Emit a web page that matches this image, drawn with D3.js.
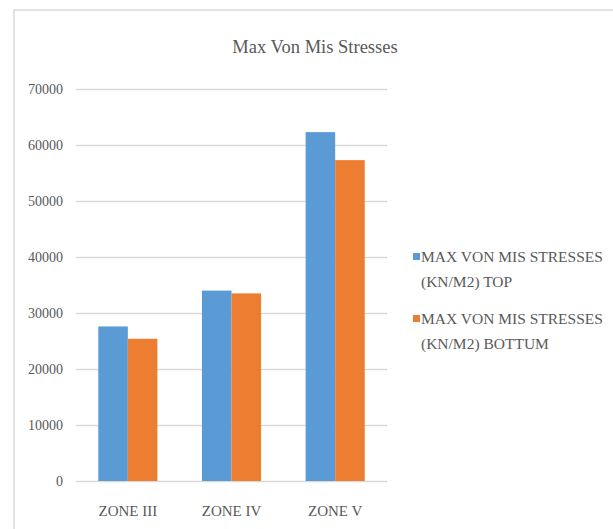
<!DOCTYPE html>
<html>
<head>
<meta charset="utf-8">
<script src="https://cdn.jsdelivr.net/npm/d3@7"></script>
<style>
  body { margin: 0; background: #fff; }
</style>
</head>
<body>
<svg id="chart" width="613" height="529" font-family="Liberation Serif"></svg>
<script>
// values (kN/m2)
var zones = ["ZONE III", "ZONE IV", "ZONE V"];
var seriesNames = ["MAX VON MIS STRESSES (KN/M2) TOP", "MAX VON MIS STRESSES (KN/M2) BOTTUM"];
var topValues = [27600, 34000, 62300];
var bottomValues = [25400, 33500, 57300];
var yTicks = [0, 10000, 20000, 30000, 40000, 50000, 60000, 70000];
var colors = ["#5b9bd5", "#ed7d31"];

var font = "Liberation Serif";
var textColor = "#595959";

var svg = d3.select("#chart");

// outer frame (only top and left edges visible)
svg.append("path")
    .attr("d", "M14,540 L14,10 L620,10")
    .attr("fill", "none")
    .attr("stroke", "#d9d9d9")
    .attr("stroke-width", 1.5);

var margin = {left: 76, right: 387, top: 89, bottom: 481};

var x0 = d3.scaleBand()
    .domain(zones)
    .range([margin.left, margin.right])
    .paddingInner(0.43)
    .paddingOuter(0.215);

var x1 = d3.scaleBand()
    .domain([0, 1])
    .range([0, x0.bandwidth()]);

var y = d3.scaleLinear()
    .domain([0, 70000])
    .range([margin.bottom, margin.top]);

// title
svg.append("text")
    .attr("x", 315)
    .attr("y", 53)
    .attr("text-anchor", "middle")
    .attr("font-family", font)
    .attr("font-size", 18.5)
    .attr("fill", textColor)
    .text("Max Von Mis Stresses");

// y axis + gridlines
var yAxis = svg.append("g")
    .attr("transform", "translate(" + margin.left + ",0)")
    .call(d3.axisLeft(y)
        .tickValues(yTicks)
        .tickFormat(d3.format("d"))
        .tickSize(-(margin.right - margin.left))
        .tickPadding(13))
    .attr("font-family", font)
    .attr("font-size", 14);
yAxis.select(".domain").remove();
yAxis.selectAll("line").attr("stroke", "#d9d9d9").attr("stroke-width", 1.5);
yAxis.selectAll("text").attr("fill", textColor);

// bars
var groups = svg.append("g").selectAll("g")
    .data(zones)
    .enter().append("g")
    .attr("transform", function(d) { return "translate(" + x0(d) + ",0)"; });

groups.selectAll("rect")
    .data(function(d, i) { return [topValues[i], bottomValues[i]]; })
    .enter().append("rect")
    .attr("x", function(d, j) { return x1(j); })
    .attr("y", function(d) { return y(d); })
    .attr("width", x1.bandwidth())
    .attr("height", function(d) { return y(0) - y(d); })
    .attr("fill", function(d, j) { return colors[j]; });

// x axis labels
var xAxis = svg.append("g")
    .attr("transform", "translate(0," + margin.bottom + ")")
    .call(d3.axisBottom(x0).tickSize(0).tickPadding(24))
    .attr("font-family", font)
    .attr("font-size", 15);
xAxis.select(".domain").remove();
xAxis.selectAll("text").attr("fill", textColor);

// legend
var legend = svg.append("g").selectAll("g")
    .data(seriesNames)
    .enter().append("g")
    .attr("transform", function(d, i) { return "translate(413," + (262 + i * 62) + ")"; });

legend.append("rect")
    .attr("x", 0)
    .attr("y", -9)
    .attr("width", 7)
    .attr("height", 7)
    .attr("fill", function(d, i) { return colors[i]; });

legend.append("text")
    .attr("font-family", font)
    .attr("font-size", 15.5)
    .attr("fill", textColor)
    .each(function(d) {
        var parts = d.split(" (");
        var t = d3.select(this);
        t.append("tspan").attr("x", 8).attr("y", 0).text(parts[0]);
        t.append("tspan").attr("x", 8).attr("y", 25).text("(" + parts[1]);
    });
</script>
</body>
</html>
